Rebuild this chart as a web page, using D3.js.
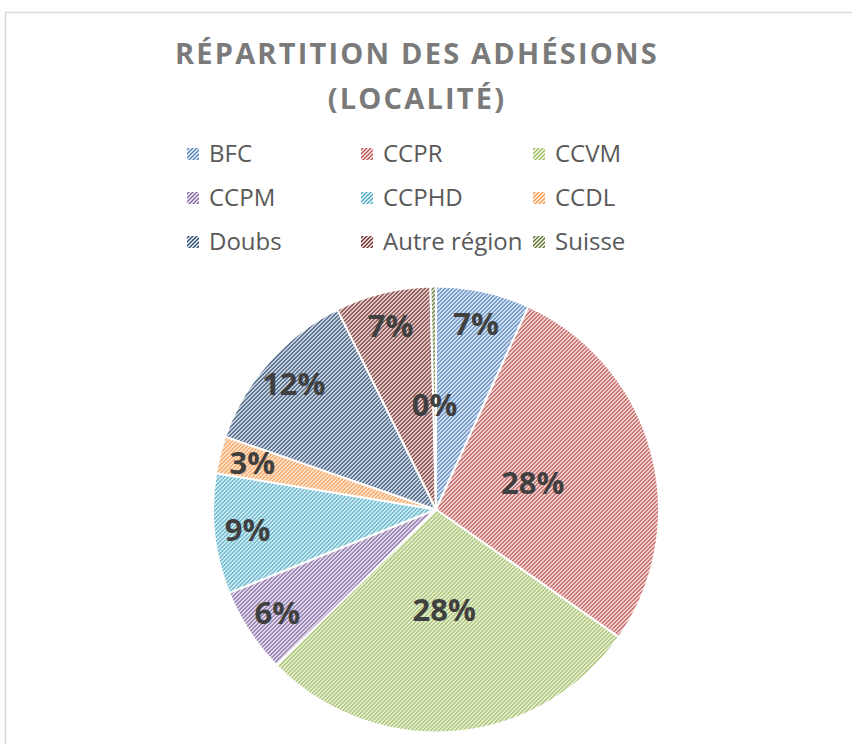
<!DOCTYPE html>
<html>
<head>
<meta charset="utf-8">
<script src="https://cdn.jsdelivr.net/npm/d3@7"></script>
<style>
 html,body{margin:0;padding:0;background:#fff;}
 svg{display:block;font-family:"Open Sans","Noto Sans",sans-serif;}
</style>
</head>
<body>
<svg id="chart" width="852" height="744"></svg>
<script>
// categories and shares (percent)
const categories=["BFC","CCPR","CCVM","CCPM","CCPHD","CCDL","Doubs","Autre région","Suisse"];
const shares=[6.8,27.9,28.0,6.2,8.7,2.7,12.4,6.9,0.4];
const colours=["#4F81BD","#C0504D","#9BBB59","#8064A2","#4BACC6","#F79646","#2C4D75","#772C2A","#5F7530"];
const titleLines=["RÉPARTITION DES ADHÉSIONS","(LOCALITÉ)"];

const svg=d3.select("#chart");
const cx=436,cy=509.5,radius=223;

// frame of the chart area (cut off on the right and bottom)
svg.append("rect").attr("x",5.5).attr("y",12.5).attr("width",900).attr("height",800)
 .attr("fill","#fff").attr("stroke","#d9d9d9").attr("stroke-width",1.5);

// hatch patterns, one per series
const defs=svg.append("defs");
categories.forEach((name,i)=>
{const p=defs.append("pattern").attr("id","hatch"+i).attr("patternUnits","userSpaceOnUse")
 .attr("width",4).attr("height",4);
 p.append("rect").attr("width",4).attr("height",4).attr("fill","#fff");
 p.append("path").attr("d","M-1,1 l2,-2 M0,4 l4,-4 M3,5 l2,-2")
 .attr("stroke",colours[i]).attr("stroke-width",1.5);
});

// title
svg.append("g").selectAll("text").data(titleLines).join("text")
 .attr("x",417).attr("y",(d,i)=>64+i*45)
 .attr("text-anchor","middle").attr("fill","#7a7a7a")
 .attr("font-size",29).attr("font-weight",700).attr("letter-spacing",2.2)
 .text(d=>d);

// legend, three columns
const legendX=[187,361,533],legendY=[162,206,250];
const legend=svg.append("g").selectAll("g").data(categories).join("g")
 .attr("transform",(d,i)=>`translate(${legendX[i%3]},${legendY[Math.floor(i/3)]})`);
legend.append("rect").attr("x",0).attr("y",-14).attr("width",12).attr("height",12)
 .attr("fill",(d,i)=>`url(#hatch${i})`);
legend.append("text").attr("x",22).attr("y",0)
 .attr("fill","#595959").attr("font-size",24).text(d=>d);

// pie
const total=d3.sum(shares);
const pie=d3.pie().sort(null).value(d=>d)(shares);
const arc=d3.arc().innerRadius(0).outerRadius(radius);
const g=svg.append("g").attr("transform",`translate(${cx},${cy})`);
g.selectAll("path").data(pie).join("path")
 .attr("d",arc).attr("fill",(d,i)=>`url(#hatch${i})`)
 .attr("stroke","#fff").attr("stroke-width",2);

// labels, best-fit-like: large slices nearer the centre
const pct=d3.format(".0%");
const labelRadius=d=>
{const s=d.value/total;
 return radius*(s>0.2?0.45:s<0.01?0.47:0.85);
};
g.selectAll("text").data(pie).join("text")
 .attr("transform",d=>
 {const a=(d.startAngle+d.endAngle)/2,r=labelRadius(d);
 return `translate(${Math.sin(a)*r},${-Math.cos(a)*r})`;
 })
 .attr("text-anchor","middle").attr("dy","0.36em")
 .attr("fill","#404040").attr("font-size",31).attr("font-weight",700)
 .text(d=>pct(d.value/total));
</script>
</body>
</html>
